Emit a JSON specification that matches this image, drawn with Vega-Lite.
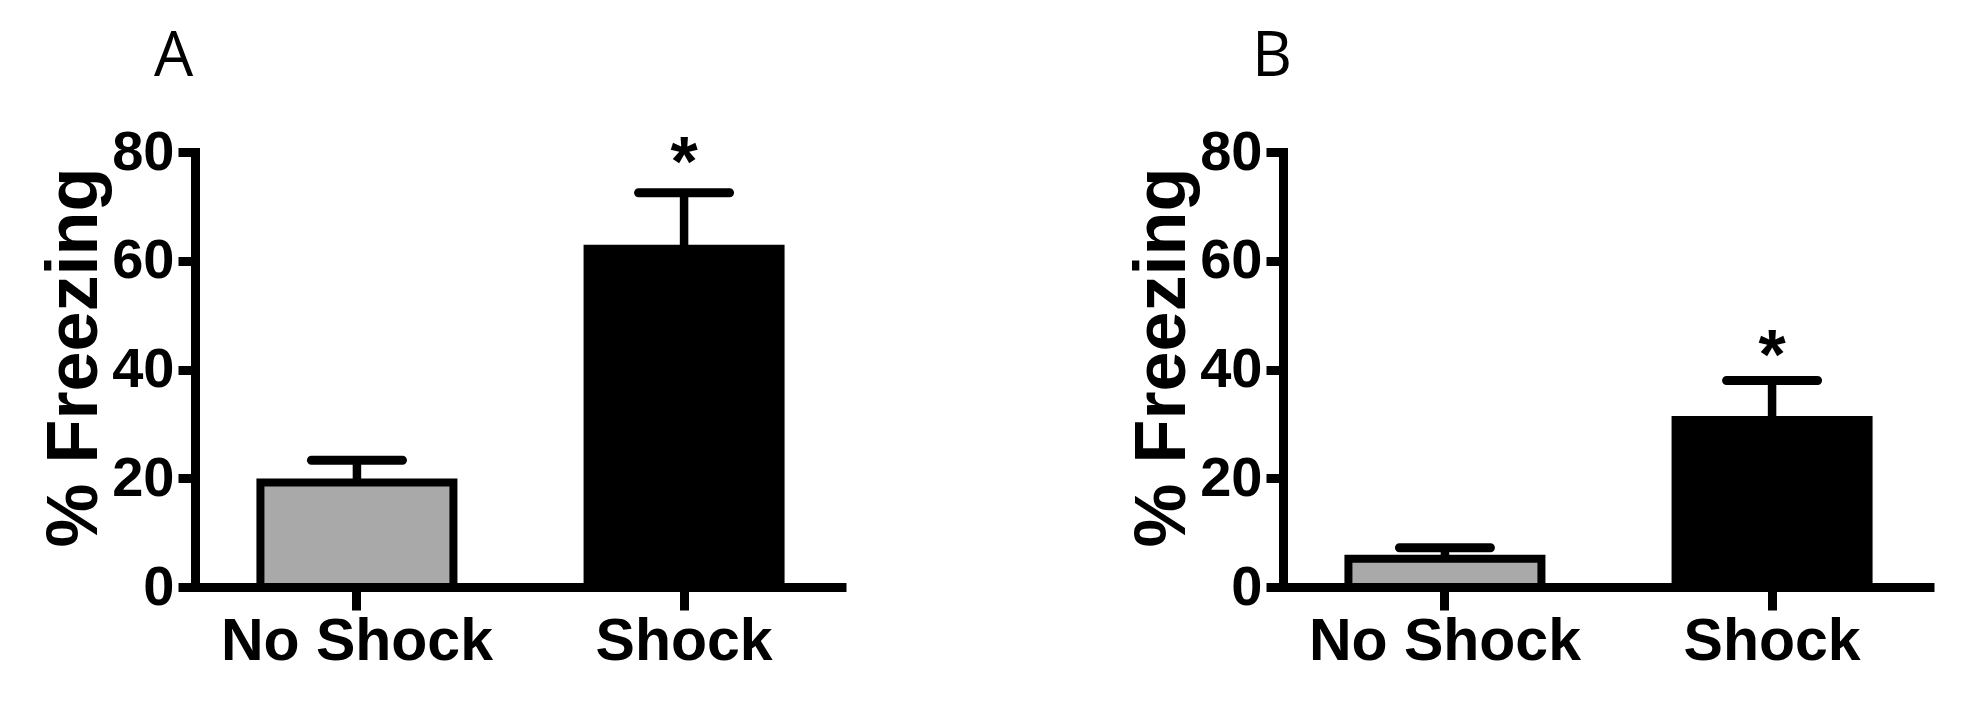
{
  "$schema": "https://vega.github.io/schema/vega-lite/v6.json",
  "background": "white",
  "padding": {"left": 37, "top": 26, "right": 5, "bottom": 5},
  "datasets": {
    "a": [
      {"group": "No Shock", "mean": 19.2, "upper": 23.3, "sig": ""},
      {"group": "Shock", "mean": 62.2, "upper": 72.5, "sig": "*"}
    ],
    "b": [
      {"group": "No Shock", "mean": 5.2, "upper": 7.2, "sig": ""},
      {"group": "Shock", "mean": 30.7, "upper": 38.0, "sig": "*"}
    ]
  },
  "spacing": 279,
  "hconcat": [
    {
      "width": 651,
      "height": 435,
      "data": {"name": "a"},
      "title": {"text": "A", "anchor": "start", "frame": "group", "dx": -41, "offset": -14, "baseline": "alphabetic", "font": "Open Sans", "fontSize": 62, "fontWeight": "normal", "color": "black"},
      "encoding": {
        "x": {"field": "group", "type": "nominal", "sort": ["No Shock", "Shock"], "scale": {"paddingInner": 0.41, "paddingOuter": 0.2}, "axis": {"title": null, "labelLimit": 0}}
      },
      "layer": [
        {
          "mark": {"type": "rule", "strokeWidth": 8.5, "color": "black"},
          "encoding": {
            "y": {"field": "mean", "type": "quantitative", "scale": {"domain": [0, 80], "nice": false}, "title": "% Freezing", "axis": {"values": [0, 20, 40, 60, 80]}},
            "y2": {"field": "upper"}
          }
        },
        {
          "mark": {"type": "tick", "size": 100, "thickness": 9, "cornerRadius": 4.5, "color": "black", "opacity": 1},
          "encoding": {"y": {"field": "upper", "type": "quantitative", "title": "% Freezing"}}
        },
        {
          "mark": {"type": "bar", "stroke": "black", "strokeWidth": 8, "opacity": 1},
          "encoding": {
            "y": {"field": "mean", "type": "quantitative", "title": "% Freezing"},
            "fill": {"field": "group", "type": "nominal", "scale": {"domain": ["No Shock", "Shock"], "range": ["#a9a9a9", "#000000"]}, "legend": null}
          }
        },
        {
          "mark": {"type": "text", "font": "Liberation Sans", "fontWeight": "bold", "fontSize": 70, "baseline": "alphabetic", "dy": -7, "color": "black"},
          "encoding": {"y": {"field": "upper", "type": "quantitative", "title": "% Freezing"}, "text": {"field": "sig"}}
        }
      ]
    },
    {
      "width": 651,
      "height": 435,
      "data": {"name": "b"},
      "title": {"text": "B", "anchor": "start", "frame": "group", "dx": -31, "offset": -14, "baseline": "alphabetic", "font": "Open Sans", "fontSize": 62, "fontWeight": "normal", "color": "black"},
      "encoding": {
        "x": {"field": "group", "type": "nominal", "sort": ["No Shock", "Shock"], "scale": {"paddingInner": 0.41, "paddingOuter": 0.2}, "axis": {"title": null, "labelLimit": 0}}
      },
      "layer": [
        {
          "mark": {"type": "rule", "strokeWidth": 8.5, "color": "black"},
          "encoding": {
            "y": {"field": "mean", "type": "quantitative", "scale": {"domain": [0, 80], "nice": false}, "title": "% Freezing", "axis": {"values": [0, 20, 40, 60, 80]}},
            "y2": {"field": "upper"}
          }
        },
        {
          "mark": {"type": "tick", "size": 100, "thickness": 9, "cornerRadius": 4.5, "color": "black", "opacity": 1},
          "encoding": {"y": {"field": "upper", "type": "quantitative", "title": "% Freezing"}}
        },
        {
          "mark": {"type": "bar", "stroke": "black", "strokeWidth": 8, "opacity": 1},
          "encoding": {
            "y": {"field": "mean", "type": "quantitative", "title": "% Freezing"},
            "fill": {"field": "group", "type": "nominal", "scale": {"domain": ["No Shock", "Shock"], "range": ["#a9a9a9", "#000000"]}, "legend": null}
          }
        },
        {
          "mark": {"type": "text", "font": "Liberation Sans", "fontWeight": "bold", "fontSize": 70, "baseline": "alphabetic", "dy": -1, "color": "black"},
          "encoding": {"y": {"field": "upper", "type": "quantitative", "title": "% Freezing"}, "text": {"field": "sig"}}
        }
      ]
    }
  ],
  "config": {
    "view": {"stroke": null},
    "axis": {
      "domainColor": "black",
      "domainWidth": 9,
      "tickColor": "black",
      "tickWidth": 9,
      "grid": false,
      "labelColor": "black",
      "titleColor": "black",
      "labelFont": "Liberation Sans",
      "titleFont": "Liberation Sans",
      "labelFontWeight": "bold",
      "titleFontWeight": "bold"
    },
    "axisY": {
      "tickSize": 17,
      "labelPadding": 4,
      "labelFontSize": 56,
      "titleFontSize": 72,
      "titleX": -99,
      "titleY": 205,
      "titleBaseline": "alphabetic",
      "titleAlign": "center",
      "titleAngle": 270,
      "domainCap": "square"
    },
    "axisX": {
      "labelAngle": 0,
      "tickSize": 23,
      "labelPadding": 49,
      "labelBaseline": "alphabetic",
      "labelFontSize": 59
    }
  }
}
